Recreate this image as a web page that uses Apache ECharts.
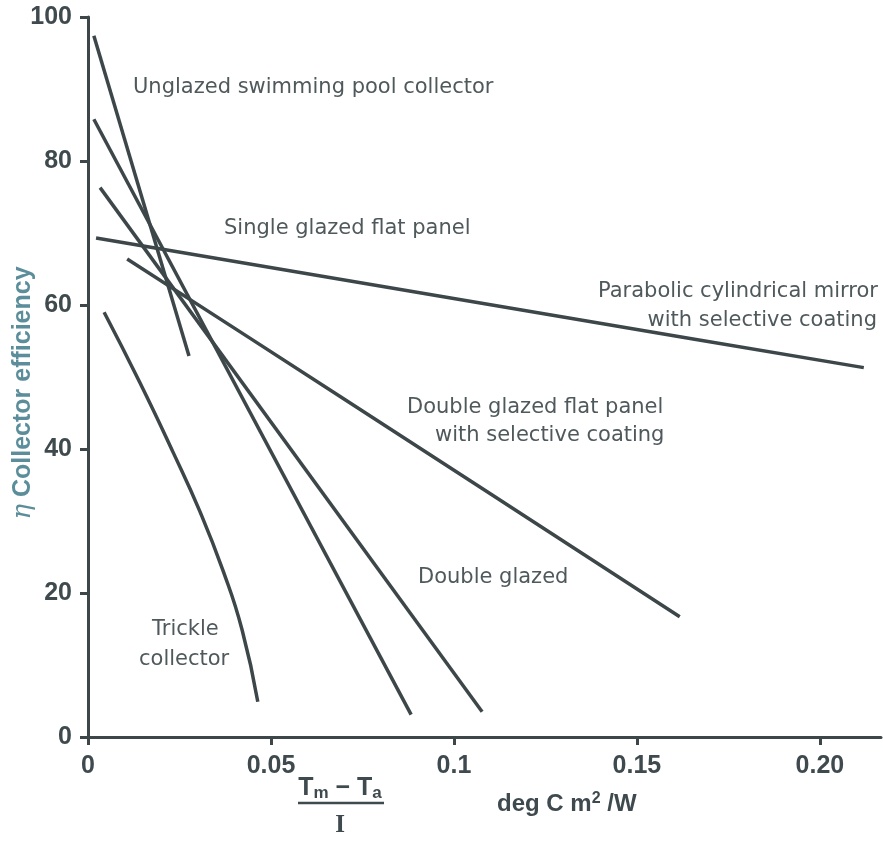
<!DOCTYPE html>
<html>
<head>
<meta charset="utf-8">
<script src="https://cdn.jsdelivr.net/npm/echarts@6/dist/echarts.min.js"></script>
<style>html,body{margin:0;padding:0;background:#fff}#c{width:883px;height:844px}</style>
</head>
<body>
<div id="c"></div>
<script>
// ---- data (x: (Tm-Ta)/I in deg C m²/W, y: collector efficiency %) ----
const xTicks = [0, 0.05, 0.1, 0.15, 0.2];
const xTickLabels = ['0', '0.05', '0.1', '0.15', '0.20'];
const yTicks = [0, 20, 40, 60, 80, 100];

const unglazedPool = [[0.0016, 97.4], [0.0276, 52.9]];
const singleGlazed = [[0.0016, 85.8], [0.0883, 3.1]];
const doubleGlazed = [[0.0033, 76.3], [0.1077, 3.5]];
const parabolicMirror = [[0.0022, 69.3], [0.1290, 58.4], [0.2120, 51.3]];
const doubleSelective = [[0.0107, 66.4], [0.0689, 47.3], [0.1617, 16.7]];
const trickle = [[0.0044, 59.0], [0.0142, 49.2], [0.0232, 39.6], [0.0306, 31.3], [0.0369, 23.1], [0.0421, 14.9], [0.0464, 4.9]];

const seriesNames = ['Unglazed swimming pool collector', 'Single glazed flat panel', 'Double glazed',
  'Parabolic cylindrical mirror with selective coating', 'Double glazed flat panel with selective coating', 'Trickle collector'];
const seriesData = [unglazedPool, singleGlazed, doubleGlazed, parabolicMirror, doubleSelective, trickle];
const seriesSmooth = [false, false, false, 0.3, 0.3, 0.5];

const LINE = '#3d4749';
const AXIS = '#3d4749';
const TICKTXT = '#3f4a4e';
const NOTE = '#4f595c';
const TEAL = '#5b8e9a';

const chart = echarts.init(document.getElementById('c'), null, {renderer: 'canvas'});

function note(text, x, y, align) {
  return {type: 'text', x: x, y: y, silent: true,
    style: {text: text, fontSize: 21, fontFamily: '"DejaVu Sans", sans-serif', fill: NOTE,
      align: align || 'left', verticalAlign: 'middle', textAlign: align || 'left', textVerticalAlign: 'middle'}};
}

chart.setOption({
  backgroundColor: '#ffffff',
  animation: false,
  grid: {left: 88, right: 2, top: 17, bottom: 107, containLabel: false, outerBoundsMode: 'none'},
  xAxis: {
    type: 'value', min: 0, max: 0.2167,
    axisLine: {show: true, lineStyle: {color: AXIS, width: 3}},
    axisTick: {show: true, length: 8, lineStyle: {color: AXIS, width: 3}, customValues: xTicks},
    axisLabel: {show: true, margin: 17, fontSize: 25, fontWeight: 'bold', color: TICKTXT,
      fontFamily: '"Liberation Sans", Arial, sans-serif', customValues: xTicks,
      formatter: function (v) { const i = xTicks.findIndex(t => Math.abs(t - v) < 1e-9); return i >= 0 ? xTickLabels[i] : ''; }},
    splitLine: {show: false}
  },
  yAxis: {
    type: 'value', min: 0, max: 100, interval: 20,
    axisLine: {show: true, lineStyle: {color: AXIS, width: 3}},
    axisTick: {show: true, length: 8, lineStyle: {color: AXIS, width: 3}, customValues: yTicks},
    axisLabel: {show: true, margin: 16, fontSize: 25, fontWeight: 'bold', color: TICKTXT,
      fontFamily: '"Liberation Sans", Arial, sans-serif', customValues: yTicks},
    splitLine: {show: false}
  },
  series: seriesData.map((d, i) => ({
    name: seriesNames[i], type: 'line', data: d, smooth: seriesSmooth[i],
    showSymbol: false, symbol: 'none', silent: true,
    lineStyle: {color: LINE, width: 3.5}
  })),
  graphic: [
    // y-axis title
    {type: 'text', x: 23, y: 393, rotation: Math.PI / 2, silent: true,
      style: {text: '{eta|η} Collector efficiency', align: 'center', verticalAlign: 'middle', textAlign: 'center', textVerticalAlign: 'middle',
        fill: TEAL, fontSize: 25, fontWeight: 'bold', fontFamily: '"Liberation Sans", Arial, sans-serif',
        rich: {eta: {fontSize: 26, fontStyle: 'italic', fontWeight: 'normal', fill: TEAL, color: TEAL, fontFamily: '"DejaVu Serif", serif'}}}},
    note('Unglazed swimming pool collector', 133, 88),
    note('Single glazed flat panel', 224, 229),
    note('Parabolic cylindrical mirror', 878, 292, 'right'),
    note('with selective coating', 877, 321, 'right'),
    note('Double glazed flat panel', 407, 408),
    note('with selective coating', 435, 436),
    note('Double glazed', 418, 578),
    note('Trickle', 152, 630),
    note('collector', 139, 660),
    // x-axis title: (Tm − Ta) / I   deg C m²/W
    {type: 'text', x: 340, y: 788, silent: true,
      style: {text: '{t|T}{s|m}{t| − T}{s|a}', align: 'center', verticalAlign: 'middle', textAlign: 'center', textVerticalAlign: 'middle',
        fill: TICKTXT, fontFamily: '"Liberation Sans", Arial, sans-serif',
        rich: {t: {fontSize: 25, fontWeight: 'bold', fill: TICKTXT, color: TICKTXT},
               s: {fontSize: 17, fontWeight: 'bold', fill: TICKTXT, color: TICKTXT, verticalAlign: 'bottom', padding: [10, 0, 0, 0]}}}},
    {type: 'line', silent: true, shape: {x1: 298, y1: 803, x2: 384, y2: 803}, style: {stroke: TICKTXT, lineWidth: 2.5}},
    {type: 'text', x: 340, y: 826, silent: true,
      style: {text: 'I', align: 'center', verticalAlign: 'middle', textAlign: 'center', textVerticalAlign: 'middle',
        fontSize: 25, fontWeight: 'bold', fontFamily: '"Liberation Serif", serif', fill: TICKTXT}},
    {type: 'text', x: 497, y: 804, silent: true,
      style: {text: '{t|deg C m}{sup|2}{t| /W}', align: 'left', verticalAlign: 'middle', textAlign: 'left', textVerticalAlign: 'middle',
        fill: TICKTXT, fontFamily: '"Liberation Sans", Arial, sans-serif',
        rich: {t: {fontSize: 24, fontWeight: 'bold', fill: TICKTXT, color: TICKTXT},
               sup: {fontSize: 16, fontWeight: 'bold', fill: TICKTXT, color: TICKTXT, verticalAlign: 'top', padding: [0, 0, 10, 0]}}}}
  ]
});
</script>
</body>
</html>
